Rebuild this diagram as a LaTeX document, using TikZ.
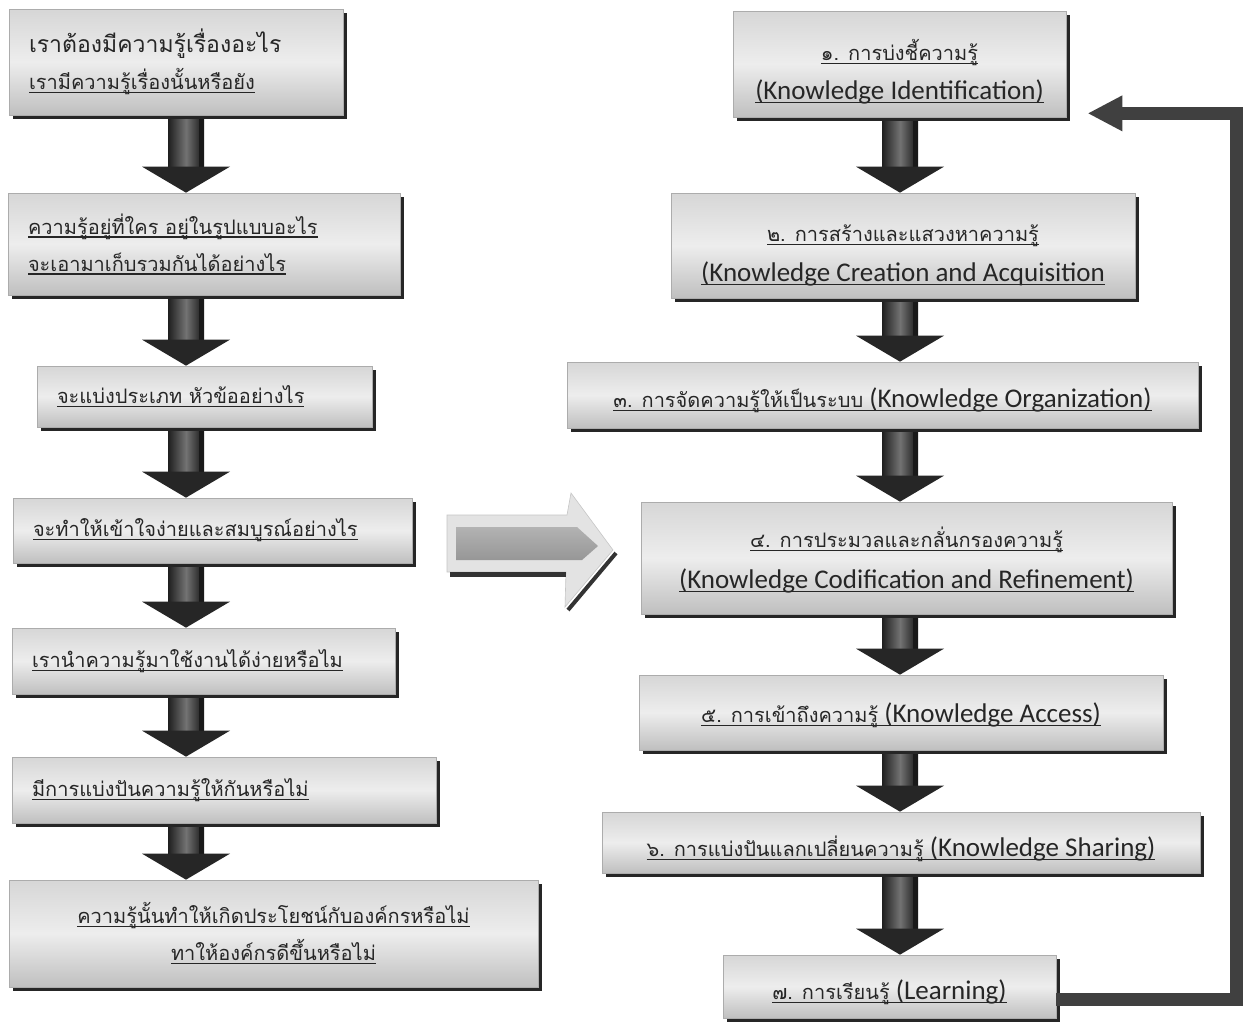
\documentclass[tikz,border=0pt]{standalone}
\usepackage{fontspec}
\setmainfont{Carlito}
\newfontfamily\thai[Script=Thai]{Loma}
\usetikzlibrary{shadows,calc}
\newcommand\ulx[1]{\leavevmode\setbox0=\hbox{#1}\rlap{\rule[-3.5pt]{\wd0}{1.1pt}}\box0}
\newcommand\tht[1]{{\thai\fontsize{20}{38}\selectfont #1}}
\newcommand\lowr[2]{\raisebox{-#1}[\height][\depth]{\begin{tabular}{@{}c@{}}#2\end{tabular}}}
\newcommand\blk[3]{%
  \coordinate (bs) at (#1 |- #2.south);
  \coordinate (bt) at (#1 |- #3.north);
  \shade[left color=black!88, right color=black!92, middle color=black!55] ($(bs)+(-18,4)$) rectangle ($(bt)+(18,-26)$);
  \fill[black!90] ($(bs)+(13,4)$) rectangle ($(bt)+(18,-26)$);
  \fill[black!85] ($(bt)+(-44,-26)$) -- ($(bt)+(44,-26)$) -- (bt) -- cycle;
}
\begin{document}
\begin{tikzpicture}[x=1pt,y=-1pt,
  box/.style={draw=gray!65, line width=0.7pt, top color=gray!32, bottom color=gray!50, middle color=gray!14,
    drop shadow={shadow xshift=4pt, shadow yshift=-4pt, fill=black!85, opacity=1},
    inner xsep=20pt, inner ysep=0pt, text=black!85},
  lbox/.style={box, align=left, font=\thai\fontsize{20}{37}\selectfont},
  rbox/.style={box, align=center, inner xsep=0pt, font=\fontsize{27}{38}\selectfont},
  fb/.style={black!75},
]
\useasboundingbox (0,0) rectangle (1251,1023);
\fill[white] (0,0) rectangle (1251,1023);

% ---------- left column ----------
\node[lbox, minimum width=334pt, text width=294pt, minimum height=106pt] (L1) at (176,62)
  {{\fontsize{23}{37}\selectfont เราต้องมีความรู้เรื่องอะไร}\\ \ulx{เรามีความรู้เรื่องนั้นหรือยัง}};
\node[lbox, minimum width=392pt, text width=352pt, minimum height=102pt] (L2) at (204,244)
  {\ulx{ความรู้อยู่ที่ใคร อยู่ในรูปแบบอะไร}\\ \ulx{จะเอามาเก็บรวมกันได้อย่างไร}};
\node[lbox, minimum width=335pt, text width=295pt, minimum height=61pt] (L3) at (204.5,396.5)
  {\ulx{จะแบ่งประเภท หัวข้ออย่างไร}};
\node[lbox, minimum width=399pt, text width=359pt, minimum height=65pt] (L4) at (212.5,530.5)
  {\ulx{จะทำให้เข้าใจง่ายและสมบูรณ์อย่างไร}};
\node[lbox, minimum width=383pt, text width=343pt, minimum height=66pt] (L5) at (203.5,661)
  {\ulx{เรานำความรู้มาใช้งานได้ง่ายหรือไม}};
\node[lbox, minimum width=424pt, text width=384pt, minimum height=66pt] (L6) at (224,790)
  {\ulx{มีการแบ่งปันความรู้ให้กันหรือไม่}};
\node[lbox, align=center, inner xsep=0pt, minimum width=529pt, minimum height=107pt] (L7) at (273.5,933.5)
  {\ulx{ความรู้นั้นทำให้เกิดประโยชน์กับองค์กรหรือไม่}\\ \ulx{ทาให้องค์กรดีขึ้นหรือไม่}};

\coordinate (ax) at (186,0);
\blk{ax}{L1}{L2}
\blk{ax}{L2}{L3}
\blk{ax}{L3}{L4}
\blk{ax}{L4}{L5}
\blk{ax}{L5}{L6}
\blk{ax}{L6}{L7}

% ---------- right column ----------
\node[rbox, minimum width=333pt, minimum height=106pt] (R1) at (899.5,64)
  {\lowr{8pt}{\ulx{\tht{๑. การบ่งชี้ความรู้}}\\[1pt] \ulx{(Knowledge Identification)}}};
\node[rbox, minimum width=464pt, minimum height=105pt] (R2) at (903,245.5)
  {\lowr{8pt}{\ulx{\tht{๒. การสร้างและแสวงหาความรู้}}\\[2pt] \ulx{(Knowledge Creation and Acquisition}}};
\node[rbox, minimum width=631pt, minimum height=66pt] (R3) at (882.5,395)
  {\lowr{5pt}{\ulx{\tht{๓. การจัดความรู้ให้เป็นระบบ} (Knowledge Organization)}}};
\node[rbox, minimum width=531pt, minimum height=112pt] (R4) at (906.5,558)
  {\lowr{2pt}{\ulx{\tht{๔. การประมวลและกลั่นกรองความรู้}}\\[3pt] \ulx{(Knowledge Codification and Refinement)}}};
\node[rbox, minimum width=524pt, minimum height=75pt] (R5) at (901,712.5)
  {\lowr{2pt}{\ulx{\tht{๕. การเข้าถึงความรู้} (Knowledge Access)}}};
\node[rbox, minimum width=598pt, minimum height=61pt] (R6) at (901,842.5)
  {\lowr{6pt}{\ulx{\tht{๖. การแบ่งปันแลกเปลี่ยนความรู้} (Knowledge Sharing)}}};
\node[rbox, minimum width=333pt, minimum height=63pt] (R7) at (889.5,986.5)
  {\lowr{5pt}{\ulx{\tht{๗. การเรียนรู้} (Learning)}}};

\coordinate (bx) at (900,0);
\blk{bx}{R1}{R2}
\blk{bx}{R2}{R3}
\blk{bx}{R3}{R4}
\blk{bx}{R4}{R5}
\blk{bx}{R5}{R6}
\blk{bx}{R6}{R7}

% ---------- feedback arrow ----------
\coordinate (fbstart) at ($(R7.south east)+(0,-19)$);
\coordinate (fbtip) at ($(R1.south east)+(22,-4)$);
\coordinate (fbx) at (1236,0);
\draw[fb, line width=13pt, line join=miter] (fbstart) -- (fbx |- fbstart) -- (fbx |- fbtip) -- ($(fbtip)+(34,0)$);
\fill[fb] (fbtip) -- ($(fbtip)+(34,-18)$) -- ($(fbtip)+(34,18)$) -- cycle;

% ---------- middle big arrow ----------
\fill[gray!22] (447,515) -- (567,515) -- (571,493) -- (613,550) -- (565,607) -- (566,572) -- (447,572) -- cycle;
\draw[gray!45, line width=0.6pt] (447,515) -- (567,515) -- (571,493) -- (613,550) -- (565,607) -- (566,572) -- (447,572) -- cycle;
\shade[top color=gray!60, bottom color=gray!82] (456,527) -- (577,527) -- (598,546) -- (582,560) -- (456,560) -- cycle;
\fill[black!80] (450,572) rectangle (566,577);
\draw[black!80, line width=4pt] (616,553) -- (568,610);
\end{tikzpicture}
\end{document}
